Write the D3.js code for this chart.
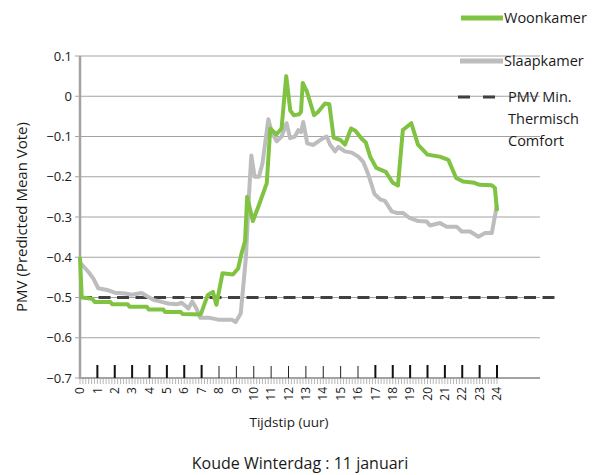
<!DOCTYPE html>
<html>
<head>
<meta charset="utf-8">
<script src="https://cdn.jsdelivr.net/npm/d3@7"></script>
<style>
  body { margin: 0; background: #fff; }
  svg text { font-family: "Open Sans", "Noto Sans", sans-serif; fill: #1a1a1a; }
</style>
</head>
<body>
<svg id="chart" width="607" height="475"></svg>
<script>
'use strict';

// Woonkamer (groen)
var woonHours = [0, 0.1, 0.7, 0.85, 1.75, 1.85, 2.75, 2.85, 3.85, 3.95, 4.8, 4.9, 5.8, 5.9, 6.95, 7.35, 7.65, 7.85, 8.2, 8.8, 9.1, 9.3, 9.5, 9.62, 9.95, 10.3, 10.75, 10.95, 11.3, 11.6, 11.87, 12.1, 12.3, 12.6, 12.72, 12.82, 13.05, 13.47, 13.7, 14.1, 14.35, 14.6, 15.0, 15.25, 15.6, 15.85, 16.2, 16.45, 16.7, 17.05, 17.6, 18.0, 18.3, 18.58, 19.07, 19.45, 20.0, 20.7, 21.2, 21.65, 22.05, 22.7, 23.0, 23.7, 23.88, 24];
var woonPMV = [-0.40, -0.50, -0.503, -0.511, -0.511, -0.517, -0.517, -0.523, -0.523, -0.53, -0.53, -0.536, -0.536, -0.541, -0.542, -0.494, -0.486, -0.518, -0.44, -0.443, -0.428, -0.39, -0.36, -0.25, -0.31, -0.27, -0.216, -0.08, -0.095, -0.08, 0.05, -0.035, -0.047, -0.045, -0.039, 0.033, 0.013, -0.047, -0.039, -0.018, -0.02, -0.103, -0.109, -0.12, -0.08, -0.086, -0.105, -0.115, -0.15, -0.178, -0.188, -0.215, -0.222, -0.084, -0.067, -0.12, -0.145, -0.15, -0.158, -0.203, -0.212, -0.215, -0.22, -0.221, -0.228, -0.285];

// Slaapkamer (grijs)
var slaapHours = [0, 0.48, 0.77, 1.05, 1.63, 2.0, 2.6, 2.97, 3.55, 3.84, 4.22, 4.7, 5.08, 5.56, 5.85, 6.24, 6.46, 6.71, 6.92, 7.4, 7.96, 8.73, 8.96, 9.25, 9.55, 9.72, 9.86, 10.05, 10.3, 10.5, 10.84, 11.03, 11.32, 11.6, 11.89, 12.09, 12.37, 12.56, 12.72, 12.85, 13.08, 13.43, 13.72, 14.0, 14.2, 14.39, 14.68, 14.87, 15.25, 15.64, 16.02, 16.3, 16.6, 16.95, 17.27, 17.55, 17.94, 18.22, 18.6, 18.99, 19.47, 19.95, 20.14, 20.72, 21.1, 21.68, 21.97, 22.45, 22.93, 23.31, 23.7, 24];
var slaapPMV = [-0.413, -0.436, -0.453, -0.477, -0.482, -0.488, -0.49, -0.493, -0.489, -0.496, -0.506, -0.511, -0.515, -0.517, -0.513, -0.527, -0.51, -0.528, -0.55, -0.55, -0.555, -0.555, -0.561, -0.54, -0.40, -0.25, -0.147, -0.2, -0.2, -0.167, -0.057, -0.089, -0.112, -0.1, -0.067, -0.104, -0.1, -0.084, -0.089, -0.064, -0.117, -0.121, -0.112, -0.104, -0.1, -0.12, -0.137, -0.126, -0.137, -0.14, -0.15, -0.163, -0.195, -0.243, -0.256, -0.26, -0.286, -0.29, -0.29, -0.303, -0.31, -0.311, -0.321, -0.315, -0.324, -0.324, -0.336, -0.336, -0.349, -0.34, -0.34, -0.27];

var pmvMin = -0.5;
var yTicks = [0.1, 0, -0.1, -0.2, -0.3, -0.4, -0.5, -0.6, -0.7];
var hourTicks = d3.range(0, 25);
var boldHours = [1, 2, 3, 4, 5, 6, 7, 17, 18, 19, 20, 21, 22, 23, 24];
var thinHours = [8, 9, 10, 11, 12, 13, 14, 15, 16];
var legendItems = ['Woonkamer', 'Slaapkamer', 'PMV Min.|Thermisch|Comfort'];

var svg = d3.select('#chart');
var x = d3.scaleLinear().domain([0, 24]).range([80, 497]);
var y = d3.scaleLinear().domain([-0.7, 0.1]).range([378, 56]);
var gridRight = 540;

// rasterlijnen
svg.append('g').selectAll('line').data(yTicks).join('line')
    .attr('x1', 75).attr('x2', gridRight)
    .attr('y1', function (d) { return y(d); }).attr('y2', function (d) { return y(d); })
    .attr('stroke', '#a3a3a3').attr('stroke-width', 1.2);

// y-as labels
svg.append('g').selectAll('text').data(yTicks).join('text')
    .attr('x', 72).attr('y', function (d) { return y(d); }).attr('dy', '0.35em')
    .attr('text-anchor', 'end').attr('font-size', 13)
    .text(function (d) { return d === 0 ? '0' : d3.format('.1f')(d); });

// kleine tikjes onder de x-as
svg.append('g').selectAll('line').data(d3.range(0, 24 * 6 + 1)).join('line')
    .attr('x1', function (d) { return x(d / 6); }).attr('x2', function (d) { return x(d / 6); })
    .attr('y1', 378).attr('y2', 384)
    .attr('stroke', '#a3a3a3').attr('stroke-width', 0.8);

// assen
svg.append('line').attr('x1', 80).attr('x2', gridRight).attr('y1', 378).attr('y2', 378)
    .attr('stroke', '#a3a3a3').attr('stroke-width', 2);
svg.append('line').attr('x1', 80).attr('x2', 80).attr('y1', 56).attr('y2', 379)
    .attr('stroke', '#a3a3a3').attr('stroke-width', 2.5);

// uurmarkeringen boven de as
svg.append('g').selectAll('line').data(boldHours).join('line')
    .attr('x1', function (d) { return x(d); }).attr('x2', function (d) { return x(d); })
    .attr('y1', 365).attr('y2', 378).attr('stroke', '#111').attr('stroke-width', 2);
svg.append('g').selectAll('line').data(thinHours).join('line')
    .attr('x1', function (d) { return x(d); }).attr('x2', function (d) { return x(d); })
    .attr('y1', 366).attr('y2', 378).attr('stroke', '#222').attr('stroke-width', 1);

// x-as labels (gedraaid)
svg.append('g').selectAll('text').data(hourTicks).join('text')
    .attr('transform', function (d) { return 'translate(' + x(d) + ',387) rotate(-90)'; })
    .attr('dy', '0.35em').attr('text-anchor', 'end').attr('font-size', 12)
    .text(function (d) { return d; });

// PMV minimum
svg.append('line').attr('x1', 80).attr('x2', 560).attr('y1', y(pmvMin)).attr('y2', y(pmvMin))
    .attr('stroke', '#404040').attr('stroke-width', 3).attr('stroke-dasharray', '12,6.5');

var line = d3.line()
    .x(function (d) { return x(d[0]); })
    .y(function (d) { return y(d[1]); });

svg.append('path').datum(d3.zip(slaapHours, slaapPMV)).attr('d', line)
    .attr('fill', 'none').attr('stroke', '#bdbdbf').attr('stroke-width', 4)
    .attr('stroke-linejoin', 'round');
svg.append('path').datum(d3.zip(woonHours, woonPMV)).attr('d', line)
    .attr('fill', 'none').attr('stroke', '#80c342').attr('stroke-width', 4)
    .attr('stroke-linejoin', 'round');

// legenda
svg.append('line').attr('x1', 461).attr('x2', 503).attr('y1', 18).attr('y2', 18)
    .attr('stroke', '#80c342').attr('stroke-width', 5);
svg.append('line').attr('x1', 460).attr('x2', 503).attr('y1', 61).attr('y2', 61)
    .attr('stroke', '#bdbdbf').attr('stroke-width', 5);
svg.append('line').attr('x1', 458).attr('x2', 495).attr('y1', 97).attr('y2', 97)
    .attr('stroke', '#404040').attr('stroke-width', 3).attr('stroke-dasharray', '12,13');

var legendY = [18, 61, 97];
legendItems.forEach(function (item, i) {
    var t = svg.append('text').attr('x', 504).attr('y', legendY[i]).attr('font-size', 14.5);
    item.split('|').forEach(function (part, j) {
        t.append('tspan').attr('x', j === 0 ? (i === 2 ? 508 : 504) : 508).attr('dy', j === 0 ? '0.35em' : 22).text(part);
    });
});

// titels
svg.append('text').attr('transform', 'translate(22,217) rotate(-90)')
    .attr('text-anchor', 'middle').attr('dy', '0.35em').attr('font-size', 15)
    .text('PMV (Predicted Mean Vote)');
svg.append('text').attr('x', 289).attr('y', 422).attr('dy', '0.35em')
    .attr('text-anchor', 'middle').attr('font-size', 13.5).text('Tijdstip (uur)');
svg.append('text').attr('x', 300).attr('y', 463).attr('dy', '0.35em')
    .attr('text-anchor', 'middle').attr('font-size', 16).text('Koude Winterdag : 11 januari');
</script>
</body>
</html>
